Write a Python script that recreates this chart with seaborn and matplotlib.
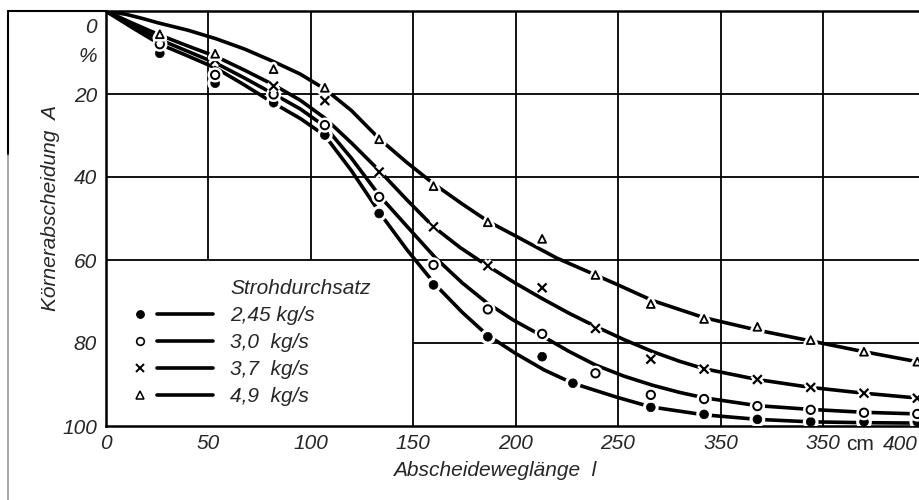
import numpy as np
import pandas as pd
import seaborn as sns
import matplotlib.pyplot as plt
import matplotlib.patheffects as pe
from matplotlib.lines import Line2D
from matplotlib.legend_handler import HandlerBase
from matplotlib.transforms import blended_transform_factory

# measured points (x in cm, y in %)
x_pts = [26.5, 53.5, 82, 107, 133.5, 160, 186.5, 213, 239, 266, 292, 318, 344, 370, 396]
y_49 = [5.6, 10.3, 14.0, 18.5, 30.9, 42.2, 50.9, 54.9, 63.6, 70.6, 74.2, 76.1, 79.3, 82.1, 84.5]
y_37 = [6.5, 11.8, 18.1, 21.6, 38.8, 52.0, 61.4, 66.7, 76.5, 83.9, 86.3, 88.8, 90.7, 92.1, 93.3]
y_30 = [8.0, 15.4, 20.1, 27.5, 44.8, 61.2, 71.9, 77.8, 87.3, 92.5, 93.5, 95.2, 96.1, 96.8, 97.1]
x_245 = [26.5, 53.5, 82, 107, 133.5, 160, 186.5, 213, 228, 266, 292, 318, 344, 370, 396]
y_245 = [10.2, 17.4, 22.1, 29.9, 48.8, 66.0, 78.5, 83.3, 89.7, 95.5, 97.2, 98.4, 99.0, 99.0, 99.0]

# hand-drawn fitted curves
cx_49 = [0, 10, 18, 26, 40, 54, 68, 82, 95, 107, 120, 134, 147, 160, 174, 187, 200, 220, 239, 250, 267, 292, 318, 344, 370, 397]
cy_49 = [0, 0.8, 1.8, 2.9, 4.6, 6.7, 9.2, 12.2, 15.2, 18.8, 24.0, 31.0, 36.5, 41.6, 46.5, 50.8, 54.2, 59.5, 63.6, 66.0, 69.8, 73.9, 76.9, 79.5, 82.1, 84.6]
cx_37 = [0, 13, 26.5, 40, 54, 68, 82, 95, 107, 120, 134, 147, 160, 173, 186, 200, 213, 226, 239, 253, 267, 280, 292, 318, 344, 370, 397]
cy_37 = [0, 2.9, 5.8, 8.4, 11.0, 14.3, 17.8, 21.5, 25.8, 31.8, 38.7, 45.5, 52.0, 57.0, 61.3, 65.6, 69.3, 72.8, 76.0, 79.2, 82.1, 84.4, 86.2, 88.8, 90.7, 92.1, 93.3]
cx_30 = [0, 13, 26.5, 40, 54, 68, 82, 95, 107, 120, 134, 150, 161, 174, 186, 199, 213, 226, 239, 253, 267, 280, 292, 318, 344, 370, 397]
cy_30 = [0, 3.4, 6.9, 9.7, 12.6, 16.2, 20.0, 23.6, 27.8, 35.5, 44.7, 53.5, 59.5, 65.5, 70.3, 74.5, 78.3, 82.0, 85.3, 88.0, 90.2, 91.9, 93.2, 95.1, 96.0, 96.7, 97.1]
cx_245 = [0, 13, 26.5, 40, 54, 68, 82, 95, 107, 120, 134, 147, 161, 174, 186, 200, 214, 228, 249, 266, 292, 318, 344, 370, 397]
cy_245 = [0, 4.0, 8.0, 10.8, 13.8, 17.9, 22.2, 25.9, 30.0, 38.5, 48.8, 57.5, 66.0, 72.6, 78.0, 82.5, 86.5, 89.7, 93.0, 95.4, 97.3, 98.4, 99.0, 99.2, 99.3]

labels = ["2,45 kg/s", "3,0  kg/s", "3,7  kg/s", "4,9  kg/s"]
x_ticks = [0, 50, 100, 150, 200, 250, 300, 350, 400]
x_ticklabels = ["0", "50", "100", "150", "200", "250", "350", "350", ""]

sns.set_style("white")
plt.rcParams["font.family"] = ["Liberation Sans", "DejaVu Sans"]
plt.rcParams["font.style"] = "italic"
FS = 15

fig = plt.figure(figsize=(9.19, 5.0), dpi=100)
ax = fig.add_axes([105.5 / 919, 74 / 500, 820 / 919, 415 / 500])

# grid, partly hidden behind the legend field
gkw = dict(color="k", lw=1.3, zorder=1)
ax.vlines([50, 100], 0, 60, **gkw)
ax.vlines([150, 200, 250, 300, 350], 0, 100, **gkw)
ax.hlines([20, 40, 60], 0, 400, **gkw)
ax.hlines(80, 150, 400, **gkw)

for cx, cy in [(cx_245, cy_245), (cx_30, cy_30), (cx_37, cy_37), (cx_49, cy_49)]:
    sns.lineplot(x=cx, y=cy, color="k", lw=2.6, sort=False, estimator=None, ax=ax, zorder=2)

halo = [pe.Stroke(linewidth=5, foreground="white"), pe.Normal()]
sns.scatterplot(x=x_245, y=y_245, marker="o", s=40, color="k", edgecolor="k", linewidth=0.5,
                ax=ax, zorder=3, path_effects=halo)
sns.scatterplot(x=x_pts, y=y_30, marker="o", s=36, facecolor="white", edgecolor="k", linewidth=1.4,
                ax=ax, zorder=3, path_effects=halo)
sns.scatterplot(x=x_pts, y=y_37, marker="x", s=40, color="k", linewidth=1.6,
                ax=ax, zorder=3, path_effects=halo)
sns.scatterplot(x=x_pts, y=y_49, marker="^", s=32, facecolor="white", edgecolor="k", linewidth=1.3,
                ax=ax, zorder=3, path_effects=halo)

ax.set_xlim(0, 400)
ax.set_ylim(100, 0)
for side in ["left", "top", "bottom"]:
    ax.spines[side].set_visible(True)
    ax.spines[side].set_color("k")
    ax.spines[side].set_linewidth(1.8)
ax.spines["right"].set_visible(False)

ax.set_xticks(x_ticks)
ax.set_xticklabels(x_ticklabels, fontsize=FS)
ax.set_yticks([20, 40, 60, 80, 100])
ax.set_yticklabels(["20", "40", "60", "80", "100"], fontsize=FS)
ax.set_yticks([3.5, 10.5], minor=True)
ax.set_yticklabels(["0", "%"], minor=True, fontsize=FS)
ax.tick_params(axis="both", which="major", direction="in", length=9, width=1.3, color="k", pad=6)
ax.tick_params(axis="y", which="minor", length=0, pad=6)
ax.tick_params(axis="x", which="minor", length=0)

tr = blended_transform_factory(ax.transData, ax.transAxes)
ax.text(368, -0.045, "cm", transform=tr, ha="center", va="center", fontsize=FS, style="normal")
ax.text(396, -0.045, "400", transform=tr, ha="right", va="center", fontsize=FS)

ax.set_ylabel("Körnerabscheidung  A", fontsize=FS)
ax.yaxis.set_label_coords(-0.055, 0.525)
ax.set_xlabel("Abscheideweglänge  l", fontsize=FS)
ax.xaxis.set_label_coords(0.475, -0.085)


class MarkLineHandler(HandlerBase):
    def create_artists(self, legend, orig_handle, xdescent, ydescent, width, height, fontsize, trans):
        if orig_handle.get_marker() in (None, "None", "", " "):
            return [Line2D([], [], transform=trans)]
        y = height / 2 - ydescent
        m = Line2D([0.07 * width - xdescent], [y], ls="none", marker=orig_handle.get_marker(),
                   ms=orig_handle.get_markersize(), mfc=orig_handle.get_markerfacecolor(),
                   mec="k", mew=orig_handle.get_markeredgewidth(), transform=trans)
        ln = Line2D([0.28 * width - xdescent, width - xdescent], [y, y], color="k", lw=2.6,
                    transform=trans)
        return [m, ln]


handles = [
    Line2D([], [], ls="none", marker="None"),
    Line2D([], [], ls="none", marker="o", ms=5.5, mfc="k", mew=0.8),
    Line2D([], [], ls="none", marker="o", ms=5.5, mfc="white", mew=1.2),
    Line2D([], [], ls="none", marker="x", ms=5.5, mfc="k", mew=1.4),
    Line2D([], [], ls="none", marker="^", ms=5.5, mfc="white", mew=1.1),
]
ax.legend(handles, ["Strohdurchsatz"] + labels, handler_map={Line2D: MarkLineHandler()},
          loc="upper left", bbox_to_anchor=(0.036, 0.355), frameon=False, fontsize=FS,
          handlelength=3.75, handletextpad=0.82, labelspacing=0.39, borderpad=0, borderaxespad=0)

# scan frame remnants at the left
fig.add_artist(Line2D([8 / 919, 106 / 919], [489 / 500, 489 / 500], color="k", lw=1.5,
                      transform=fig.transFigure))
fig.add_artist(Line2D([8 / 919, 8 / 919], [489 / 500, 345 / 500], color="k", lw=1.5,
                      transform=fig.transFigure))
fig.add_artist(Line2D([8 / 919, 8 / 919], [345 / 500, 0], color="0.6", lw=1.2,
                      transform=fig.transFigure))

fig.savefig("out.png", dpi=100)
